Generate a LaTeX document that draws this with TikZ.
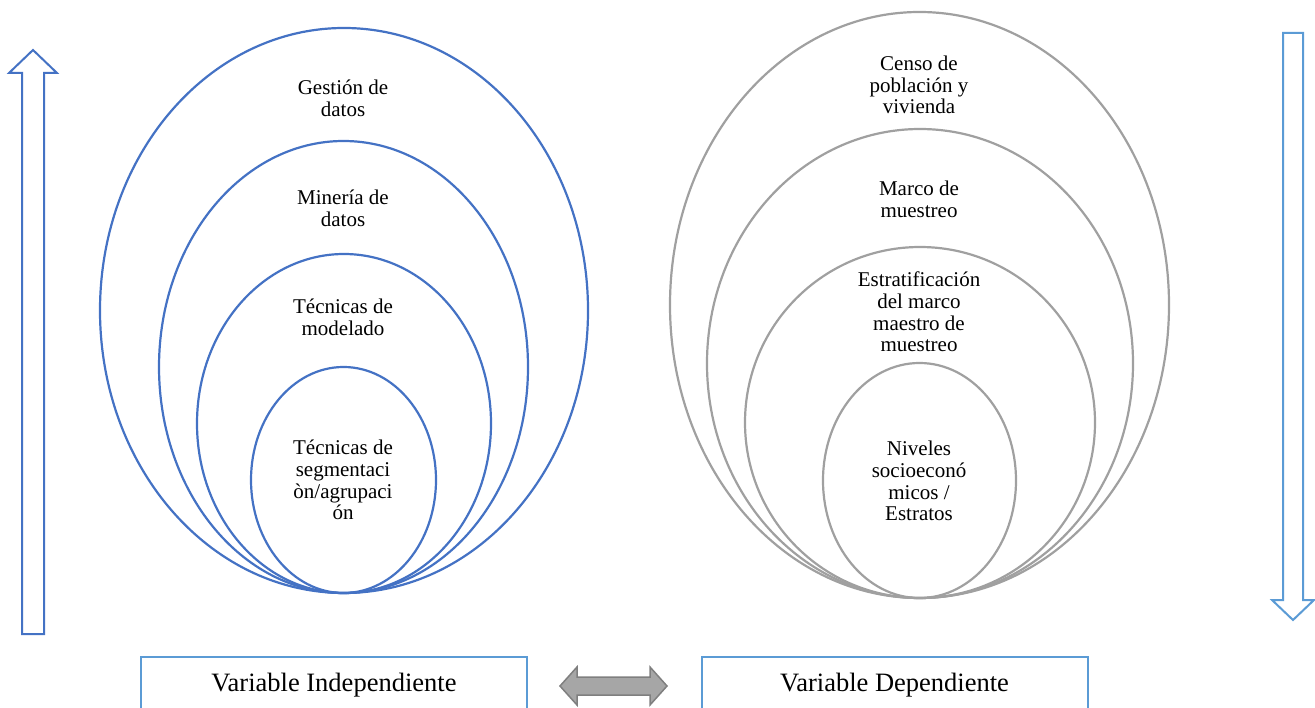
\documentclass[tikz,border=0pt]{standalone}
\usepackage{fontspec}
\setmainfont{Liberation Serif}
\begin{document}
\definecolor{ringblue}{HTML}{4472C4}
\definecolor{ringgray}{HTML}{A0A0A0}
\definecolor{boxblue}{HTML}{5B9BD5}
\definecolor{dblfill}{HTML}{A6A6A6}
\definecolor{dblline}{HTML}{7F7F7F}
\begin{tikzpicture}[x=1pt,y=-1pt,
  ring/.style={line width=2.2pt},
  lbl/.style={align=center,inner sep=0pt,font=\fontsize{21}{21.7}\selectfont},
  varbox/.style={draw=boxblue,line width=2pt,minimum width=386pt,minimum height=56pt,
    font=\fontsize{26.5}{28}\selectfont,inner sep=0pt},
  hollow/.style={draw,fill=white,line width=2pt,line join=miter}]
\useasboundingbox (0,0) rectangle (1315,708);
\clip (0,0) rectangle (1315,708);

% independent side: nested rings touching at the bottom
\draw[ring,ringblue] (344,310.5) ellipse [x radius=244,y radius=282.5];
\draw[ring,ringblue] (343.5,367) ellipse [x radius=184.5,y radius=226];
\draw[ring,ringblue] (344,423.5) ellipse [x radius=147,y radius=169.5];
\draw[ring,ringblue] (343.5,480) ellipse [x radius=92.5,y radius=113];
\node[lbl] (gest) at (343,98) {Gestión de\\datos};
\node[lbl] (mine) at (343,208) {Minería de\\datos};
\node[lbl] (model) at (343,317) {Técnicas de\\modelado};
\node[lbl] (segm) at (343,480) {Técnicas de\\segmentaci\\òn/agrupaci\\ón};

% dependent side
\draw[ring,ringgray] (919.5,305) ellipse [x radius=249.5,y radius=293];
\draw[ring,ringgray] (920,363.5) ellipse [x radius=213,y radius=234.5];
\draw[ring,ringgray] (920,422.5) ellipse [x radius=175,y radius=175.5];
\draw[ring,ringgray] (919.5,480.5) ellipse [x radius=96.5,y radius=117.5];
\node[lbl] (censo) at (919,85) {Censo de\\población y\\vivienda};
\node[lbl] (marco) at (919,199) {Marco de\\muestreo};
\node[lbl] (estrat) at (919,312) {Estratificación\\del marco\\maestro de\\muestreo};
\node[lbl] (nivel) at (919,481) {Niveles\\socioeconó\\micos /\\Estratos};

% side arrows
\draw[hollow,draw=ringblue] (22,634) -- (22,73) -- (9,73) -- (33,50) -- (57,73) -- (44,73) -- (44,634) -- cycle;
\draw[hollow,draw=boxblue] (1283,33) -- (1283,600) -- (1272,600) -- (1293,620) -- (1314,600) -- (1303,600) -- (1303,33) -- cycle;

% variable boxes
\node[varbox] (indep) at (334,685) {Variable Independiente};
\node[varbox] (dep) at (894.5,685) {Variable Dependiente};

% two-way arrow between the boxes
\draw[fill=dblfill,draw=dblline,line width=1.5pt,line join=miter]
  (560,686) -- (577,667) -- (577,677) -- (650,677) -- (650,667) -- (667,686)
  -- (650,705) -- (650,695) -- (577,695) -- (577,705) -- cycle;
\end{tikzpicture}
\end{document}
